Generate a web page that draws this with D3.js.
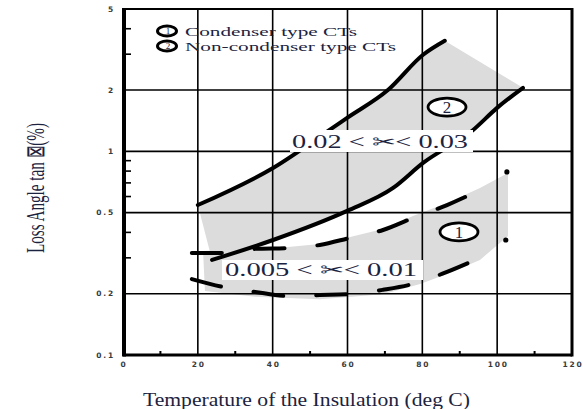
<!DOCTYPE html>
<head>
  <meta charset="utf-8">
  <script src="https://d3js.org/d3.v7.min.js"></script>
  <style>
    body { margin: 0; background: #fff; }
    .tick-label { font-family: "DejaVu Sans", sans-serif; font-size: 7.5px; font-weight: bold; letter-spacing: 1.8px; fill: #3a3a3a; }
    .serif { font-family: "Liberation Serif", "Times New Roman", serif; fill: #1c2340; }
  </style>
</head>
<body>
  <script>
    // axis ticks
    var xTicks = [0, 20, 40, 60, 80, 100, 120],
      xMinorTicks = [10, 30, 50, 70, 90, 110],
      yTicks = [0.1, 0.2, 0.5, 1, 2, 5],
      yTickLabels = ['0.1', '0.2', '0.5', '1', '2', '5'],
      yMinorTicks = [0.3, 0.4, 0.6, 0.7, 0.8, 0.9, 3, 4];

    // curve 2: non-condenser type CTs (solid)
    var nonCondUpper = [[20.0, 0.545], [40.1, 0.829], [55.9, 1.30], [59.9, 1.46], [70.8, 2.0], [80.2, 2.98], [86.0, 3.49]];
    var nonCondLower = [[23.8, 0.293], [40.1, 0.367], [59.9, 0.510], [72.2, 0.661], [80.2, 0.877], [93.5, 1.27], [99.9, 1.63], [106.9, 2.05]];

    // curve 1: condenser type CTs (dashed)
    var condUpper = [[18.4, 0.317], [27.3, 0.317], [35.3, 0.332], [44.1, 0.335], [52.6, 0.347], [60.7, 0.376], [69.5, 0.411], [77.5, 0.471], [86.6, 0.545], [95.4, 0.646], [102.6, 0.792]];
    var condLower = [[18.4, 0.236], [26.7, 0.216], [35.3, 0.204], [44.1, 0.195], [52.6, 0.197], [60.7, 0.199], [69.5, 0.209], [78.6, 0.226], [86.6, 0.256], [95.4, 0.300], [102.3, 0.367]];

    // grey band behind curve 1
    var condShadeTop = [[21.4, 0.324], [35.3, 0.332], [44.1, 0.339], [52.6, 0.351], [60.7, 0.380], [69.5, 0.416], [77.5, 0.482], [86.6, 0.558], [95.4, 0.661], [102.9, 0.783]];
    var condShadeBottom = [[102.9, 0.384], [95.4, 0.293], [86.6, 0.250], [79.4, 0.223], [69.5, 0.199], [52.6, 0.188], [35.3, 0.193], [21.9, 0.206]];

    // circled curve numbers: [x, value, label]
    var curveMarks = [[86.6, 1.65, '2'], [89.8, 0.402, '1']];

    var legendLabels = ['Condenser type CTs', 'Non-condenser type CTs'];
    var rangeLabels = ['0.02 < \u2702< 0.03', '0.005 < \u2702< 0.01'];

    var outerWidth = 583,
      outerHeight = 409;

    var margin = { top: 9, left: 123, right: 11, bottom: 54 };

    var width = outerWidth - margin.left - margin.right,
      height = outerHeight - margin.top - margin.bottom;

    var xScale = d3.scaleLinear().domain([0, 120]).range([0, width]);
    var yScale = d3.scaleLog().domain([0.1, 5]).range([height, 0]);

    var svg = d3.select('body')
      .append('svg')
      .attr('width', outerWidth)
      .attr('height', outerHeight);

    var g = svg.append('g')
      .attr('transform', 'translate(' + margin.left + ' ' + margin.top + ')');

    var line = d3.line()
      .x(function(d) { return xScale(d[0]); })
      .y(function(d) { return yScale(d[1]); });

    var smooth = d3.line()
      .x(function(d) { return xScale(d[0]); })
      .y(function(d) { return yScale(d[1]); })
      .curve(d3.curveMonotoneX);

    // shaded areas
    g.append('path')
      .attr('d', line(condShadeTop.concat(condShadeBottom)) + 'Z')
      .attr('fill', '#dcdcdc');

    g.append('path')
      .attr('d', line(nonCondUpper.concat(nonCondLower.slice().reverse())) + 'Z')
      .attr('fill', '#dcdcdc');

    // grid lines
    g.selectAll('.xgrid')
      .data(xTicks.slice(1, -1))
      .enter().append('line')
      .attr('x1', function(d) { return xScale(d); })
      .attr('x2', function(d) { return xScale(d); })
      .attr('y1', 0)
      .attr('y2', height)
      .attr('stroke', '#000')
      .attr('stroke-width', 1.6);

    g.selectAll('.ygrid')
      .data(yTicks.slice(1, -1))
      .enter().append('line')
      .attr('x1', 0)
      .attr('x2', width)
      .attr('y1', function(d) { return yScale(d); })
      .attr('y2', function(d) { return yScale(d); })
      .attr('stroke', '#000')
      .attr('stroke-width', 1.6);

    // minor ticks
    g.selectAll('.yminor')
      .data(yMinorTicks)
      .enter().append('line')
      .attr('x1', 0)
      .attr('x2', 8)
      .attr('y1', function(d) { return yScale(d); })
      .attr('y2', function(d) { return yScale(d); })
      .attr('stroke', '#000')
      .attr('stroke-width', 1.6);

    g.selectAll('.xminor')
      .data(xMinorTicks)
      .enter().append('line')
      .attr('x1', function(d) { return xScale(d); })
      .attr('x2', function(d) { return xScale(d); })
      .attr('y1', height)
      .attr('y2', height - 4)
      .attr('stroke', '#000')
      .attr('stroke-width', 2);

    // curves
    [nonCondUpper, nonCondLower].forEach(function(series) {
      g.append('path')
        .attr('d', smooth(series))
        .attr('fill', 'none')
        .attr('stroke', '#000')
        .attr('stroke-width', 4)
        .attr('stroke-linecap', 'round');
    });

    [condUpper, condLower].forEach(function(series) {
      g.append('path')
        .attr('d', smooth(series.slice(0, -1)))
        .attr('fill', 'none')
        .attr('stroke', '#000')
        .attr('stroke-width', 4)
        .attr('stroke-linecap', 'round')
        .attr('stroke-dasharray', '30 33');
      // end dot
      var last = series[series.length - 1];
      g.append('circle')
        .attr('cx', xScale(last[0]))
        .attr('cy', yScale(last[1]))
        .attr('r', 2.6)
        .attr('fill', '#000');
    });

    // frame
    g.append('line').attr('x1', 1).attr('x2', 1).attr('y1', -1).attr('y2', height + 1.5)
      .attr('stroke', '#000').attr('stroke-width', 4);
    g.append('line').attr('x1', 0).attr('x2', width).attr('y1', height).attr('y2', height)
      .attr('stroke', '#000').attr('stroke-width', 3);
    g.append('line').attr('x1', width).attr('x2', width).attr('y1', -1).attr('y2', height + 1.5)
      .attr('stroke', '#000').attr('stroke-width', 3);
    g.append('line').attr('x1', 0).attr('x2', width).attr('y1', 0).attr('y2', 0)
      .attr('stroke', '#000').attr('stroke-width', 2);

    // tick labels
    g.selectAll('.ylab')
      .data(yTicks)
      .enter().append('text')
      .attr('class', 'tick-label')
      .attr('x', -8)
      .attr('y', function(d) { return yScale(d); })
      .attr('dy', '0.35em')
      .attr('text-anchor', 'end')
      .text(function(d, i) { return yTickLabels[i]; });

    g.selectAll('.xlab')
      .data(xTicks)
      .enter().append('text')
      .attr('class', 'tick-label')
      .attr('x', function(d) { return xScale(d) + 1; })
      .attr('y', height + 12)
      .attr('text-anchor', 'middle')
      .text(function(d) { return d; });

    // range labels in white boxes
    var boxes = [
      { x: 290, y: 130, w: 183, h: 22, tx: 292, ty: 148, len: 176 },
      { x: 222, y: 260, w: 201, h: 20, tx: 225, ty: 276, len: 192 }
    ];
    boxes.forEach(function(b, i) {
      svg.append('rect')
        .attr('x', b.x).attr('y', b.y).attr('width', b.w).attr('height', b.h)
        .attr('fill', '#fff');
      svg.append('text')
        .attr('class', 'serif')
        .attr('x', b.tx).attr('y', b.ty)
        .attr('font-size', 18)
        .attr('textLength', b.len)
        .attr('lengthAdjust', 'spacingAndGlyphs')
        .text(rangeLabels[i]);
    });

    // circled numbers on the curves
    curveMarks.forEach(function(m) {
      var cx = xScale(m[0]), cy = yScale(m[1]);
      g.append('ellipse')
        .attr('cx', cx).attr('cy', cy).attr('rx', 19).attr('ry', 9)
        .attr('fill', '#fff').attr('stroke', '#000').attr('stroke-width', 2.8);
      g.append('text')
        .attr('class', 'serif')
        .attr('x', cx).attr('y', cy + 6)
        .attr('text-anchor', 'middle')
        .attr('font-size', 17)
        .text(m[2]);
    });

    // legend
    legendLabels.forEach(function(lab, i) {
      var ly = 31 + i * 15;
      svg.append('ellipse')
        .attr('cx', 167).attr('cy', ly).attr('rx', 9.5).attr('ry', 5)
        .attr('fill', '#fff').attr('stroke', '#000').attr('stroke-width', 3);
      svg.append('text')
        .attr('class', 'serif')
        .attr('x', 168).attr('y', ly + 3)
        .attr('text-anchor', 'middle')
        .attr('font-size', 9)
        .text(i + 1);
      svg.append('text')
        .attr('class', 'serif')
        .attr('x', 185).attr('y', ly + 5)
        .attr('font-size', 13)
        .attr('textLength', i === 0 ? 172 : 211)
        .attr('lengthAdjust', 'spacingAndGlyphs')
        .text(lab);
    });

    // axis titles
    svg.append('text')
      .attr('class', 'serif')
      .attr('transform', 'translate(44,188) rotate(-90)')
      .attr('text-anchor', 'middle')
      .attr('font-size', 26)
      .attr('textLength', 130)
      .attr('lengthAdjust', 'spacingAndGlyphs')
      .text('Loss Angle tan \u22A0(%)');

    svg.append('text')
      .attr('class', 'serif')
      .attr('x', 143)
      .attr('y', 406)
      .attr('font-size', 19)
      .attr('textLength', 327)
      .attr('lengthAdjust', 'spacingAndGlyphs')
      .text('Temperature of the Insulation  (deg C)');
  </script>
</body>
